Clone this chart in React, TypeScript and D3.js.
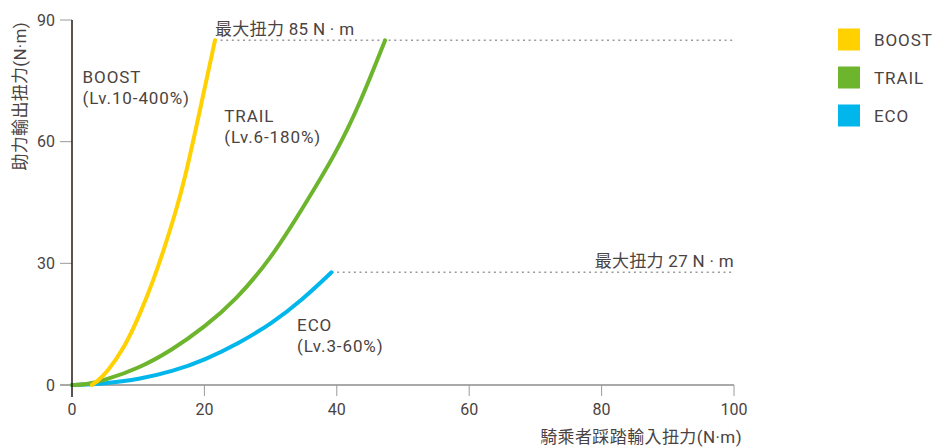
import React from "react";
import * as d3 from "d3";

const W = 932;
const H = 447;

const xTicks = [0, 20, 40, 60, 80, 100];
const yTicks = [0, 30, 60, 90];

const seriesNames = ["BOOST", "TRAIL", "ECO"];
const seriesLevels = ["(Lv.10-400%)", "(Lv.6-180%)", "(Lv.3-60%)"];
const seriesColors = ["#FFD100", "#6CB52D", "#00B6EB"];

const boostX = [3, 3.7, 5.2, 8, 10.3, 12.3, 14, 15.6, 17, 19.1, 21.6];
const boostY = [0, 0.8, 2.9, 9.4, 17.6, 25.8, 34, 42.3, 50.5, 66, 85];
const trailX = [0, 2, 5, 10.1, 15.1, 20.1, 24.7, 30, 35, 40, 43.5, 47.3];
const trailY = [0, 0.05, 1.2, 4.1, 8.6, 14.4, 20.9, 31, 44, 57.5, 69.4, 85];
const ecoX = [0, 2, 5, 10.1, 15.1, 20.1, 25.2, 30.2, 34.7, 39.2];
const ecoY = [0, 0.05, 0.4, 1.4, 3.3, 6.2, 10.3, 15.2, 20.9, 27.8];

const maxTorqueLabels = ["最大扭力 85 N · m", "最大扭力 27 N · m"];
const maxTorqueY = [85, 27.8];
const maxTorqueStartX = [21.6, 39.2];

const xTitle = "騎乘者踩踏輸入扭力(N·m)";
const yTitle = "助力輸出扭力(N·m)";

export default function App() {
  const x = d3.scaleLinear().domain([0, 100]).range([72, 734]);
  const y = d3.scaleLinear().domain([0, 90]).range([385, 20]);
  const line = d3
    .line<[number, number]>()
    .x((d) => x(d[0]))
    .y((d) => y(d[1]))
    .curve(d3.curveBasis);

  const series = [
    boostX.map((v, i) => [v, boostY[i]] as [number, number]),
    trailX.map((v, i) => [v, trailY[i]] as [number, number]),
    ecoX.map((v, i) => [v, ecoY[i]] as [number, number]),
  ];

  const font = "Roboto, 'Noto Sans CJK TC', sans-serif";
  const textColor = "#4a4341";

  const labelPos: [number, number][] = [
    [1.6, 74.5],
    [23, 64.8],
    [34, 13.3],
  ];

  return (
    <svg
      width={W}
      height={H}
      style={{ position: "absolute", left: 0, top: 0, background: "#fff" }}
      fontFamily={font}
    >
      {maxTorqueY.map((v, i) => (
        <line
          key={"dl" + i}
          x1={x(maxTorqueStartX[i])}
          x2={x(100)}
          y1={y(v)}
          y2={y(v)}
          stroke="#9a9a9a"
          strokeWidth={1.6}
          strokeDasharray="2 3.6"
        />
      ))}
      <text x={x(21.6)} y={35} fontSize={17} letterSpacing={0.3} fill={textColor}>
        {maxTorqueLabels[0]}
      </text>
      <text x={x(100)} y={266.5} fontSize={17} letterSpacing={0.3} fill={textColor} textAnchor="end">
        {maxTorqueLabels[1]}
      </text>

      <line x1={60} x2={x(100)} y1={y(0)} y2={y(0)} stroke="#8c8c8c" strokeWidth={1.3} />
      {xTicks.slice(1).map((t) => (
        <line key={"xt" + t} x1={x(t)} x2={x(t)} y1={y(0)} y2={y(0) + 11} stroke="#9a9a9a" strokeWidth={1} />
      ))}
      {xTicks.map((t) => (
        <text key={"xl" + t} x={x(t)} y={415} fontSize={16} fill={textColor} textAnchor="middle">
          {t}
        </text>
      ))}
      <text x={742} y={443} fontSize={17} letterSpacing={0.4} fill={textColor} textAnchor="end">
        {xTitle}
      </text>

      {yTicks.slice(1).map((t) => (
        <line key={"yt" + t} x1={60} x2={72} y1={y(t)} y2={y(t)} stroke="#9a9a9a" strokeWidth={1} />
      ))}
      {yTicks.map((t) => (
        <text key={"yl" + t} x={55} y={y(t)} dy="0.36em" fontSize={16} fill={textColor} textAnchor="end">
          {t}
        </text>
      ))}
      <text
        transform={`translate(26,22) rotate(-90)`}
        fontSize={17}
        letterSpacing={0.3}
        fill={textColor}
        textAnchor="end"
      >
        {yTitle}
      </text>

      {series
        .map((s, i) => (
          <path
            key={"c" + i}
            d={line(s) || ""}
            fill="none"
            stroke={seriesColors[i]}
            strokeWidth={4}
            strokeLinecap="round"
          />
        ))
        .reverse()}

      <line x1={72} x2={72} y1={y(90)} y2={397} stroke="#231815" strokeWidth={1.5} />

      {seriesNames.map((n, i) => (
        <g key={"sl" + i} fontSize={17} letterSpacing={0.9} fill={textColor}>
          <text x={x(labelPos[i][0])} y={y(labelPos[i][1])}>{n}</text>
          <text x={x(labelPos[i][0])} y={y(labelPos[i][1]) + 21}>{seriesLevels[i]}</text>
        </g>
      ))}

      {seriesNames.map((n, i) => (
        <g key={"lg" + i} transform={`translate(838,${28.5 + i * 38})`}>
          <rect width={22} height={22} fill={seriesColors[i]} />
          <text x={36} y={11} dy="0.36em" fontSize={17} letterSpacing={0.9} fill={textColor}>
            {n}
          </text>
        </g>
      ))}
    </svg>
  );
}
